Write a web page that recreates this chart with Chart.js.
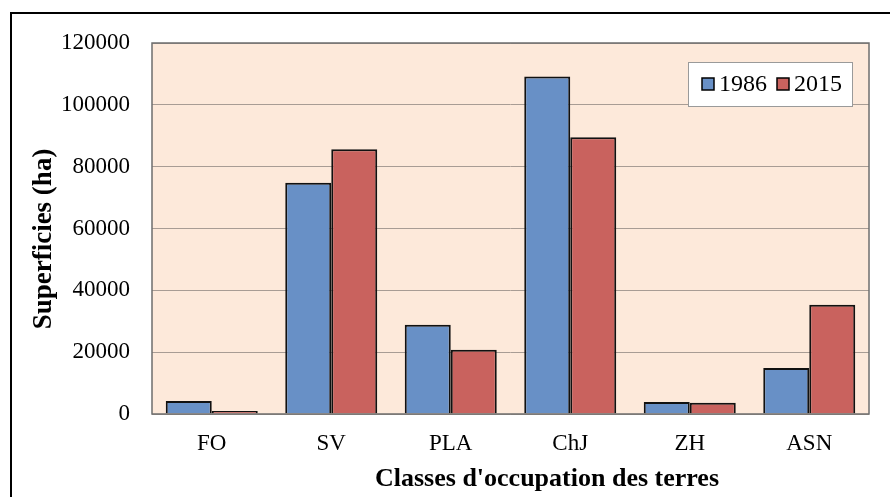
<!DOCTYPE html>
<html>
<head>
<meta charset="utf-8">
<style>
  html, body { margin: 0; padding: 0; background: #fff; }
  #wrap { width: 890px; height: 497px; }
</style>
</head>
<body>
<div id="wrap"><canvas id="chart" width="890" height="497"></canvas></div>
<script src="https://cdn.jsdelivr.net/npm/chart.js"></script>
<script>
const categories = ['FO', 'SV', 'PLA', 'ChJ', 'ZH', 'ASN'];
const values1986 = [4200, 74800, 28900, 109200, 3900, 14900];
const values2015 = [1000, 85600, 20800, 89500, 3600, 35300];
const yTicks = [0, 20000, 40000, 60000, 80000, 100000, 120000];
const xTitle = "Classes d'occupation des terres";
const yTitle = 'Superficies (ha)';

const FONT = '"Liberation Serif", "Times New Roman", serif';

// plot background, outer frame, axis titles and boxed legend
const decor = {
    id: 'decor',
    beforeDraw(chart) {
        const c = chart.ctx, a = chart.chartArea;
        c.save();
        c.fillStyle = '#fde9da';
        c.fillRect(a.left, a.top, a.right - a.left, a.bottom - a.top);
        c.strokeStyle = '#000';
        c.lineWidth = 2;
        c.beginPath();
        c.moveTo(11, 500);
        c.lineTo(11, 13);
        c.lineTo(892, 13);
        c.stroke();
        c.restore();
    },
    afterDraw(chart) {
        const c = chart.ctx, a = chart.chartArea;
        c.save();
        // plot border
        c.strokeStyle = '#6e6e6e';
        c.lineWidth = 1.5;
        c.strokeRect(a.left, a.top, a.right - a.left, a.bottom - a.top);

        // axis titles
        c.fillStyle = '#000';
        c.textAlign = 'center';
        c.textBaseline = 'middle';
        c.font = 'bold 26px ' + FONT;
        c.fillText(xTitle, 547, 479);
        c.save();
        c.translate(44, 239);
        c.rotate(-Math.PI / 2);
        c.font = 'bold 27px ' + FONT;
        c.fillText(yTitle, 0, 0);
        c.restore();

        // legend
        const x0 = 688, y0 = 62, w = 164, h = 44;
        c.fillStyle = '#fff';
        c.fillRect(x0, y0, w, h);
        c.strokeStyle = '#9a9a9a';
        c.lineWidth = 1;
        c.strokeRect(x0 + 0.5, y0 + 0.5, w, h);
        c.font = '24px ' + FONT;
        c.textAlign = 'left';
        c.textBaseline = 'middle';
        let x = x0 + 14;
        chart.data.datasets.forEach(ds => {
            c.fillStyle = ds.backgroundColor;
            c.fillRect(x, y0 + h / 2 - 6, 12, 12);
            c.strokeStyle = '#000';
            c.lineWidth = 1.5;
            c.strokeRect(x, y0 + h / 2 - 6, 12, 12);
            c.fillStyle = '#000';
            c.fillText(ds.label, x + 17, y0 + h / 2 + 1);
            x += 17 + c.measureText(ds.label).width + 10;
        });
        c.restore();
    }
};

new Chart(document.getElementById('chart'), {
    type: 'bar',
    data: {
        labels: categories,
        datasets: [
            { label: '1986', data: values1986, backgroundColor: '#6890c6', borderColor: '#111', borderWidth: 2 },
            { label: '2015', data: values2015, backgroundColor: '#c9625e', borderColor: '#111', borderWidth: 2 }
        ]
    },
    options: {
        responsive: false,
        animation: false,
        devicePixelRatio: 1,
        layout: { padding: { top: 43, right: 21, left: 14, bottom: 0 } },
        plugins: { legend: { display: false }, tooltip: { enabled: false } },
        datasets: { bar: { categoryPercentage: 0.77, barPercentage: 1.0 } },
        scales: {
            x: {
                grid: { display: false, drawTicks: false },
                border: { display: false },
                ticks: { color: '#000', font: { family: FONT, size: 23 }, padding: 16 },
                afterFit(s) { s.height = 83; }
            },
            y: {
                min: 0, max: 120000,
                afterBuildTicks(s) { s.ticks = yTicks.map(v => ({ value: v })); },
                grid: { color: '#a89c94', lineWidth: 1, drawTicks: false },
                border: { display: false },
                ticks: { color: '#000', font: { family: FONT, size: 23 }, padding: 22,
                         callback: v => String(v) },
                afterFit(s) { s.width = 138; }
            }
        }
    },
    plugins: [decor]
});
</script>
</body>
</html>
